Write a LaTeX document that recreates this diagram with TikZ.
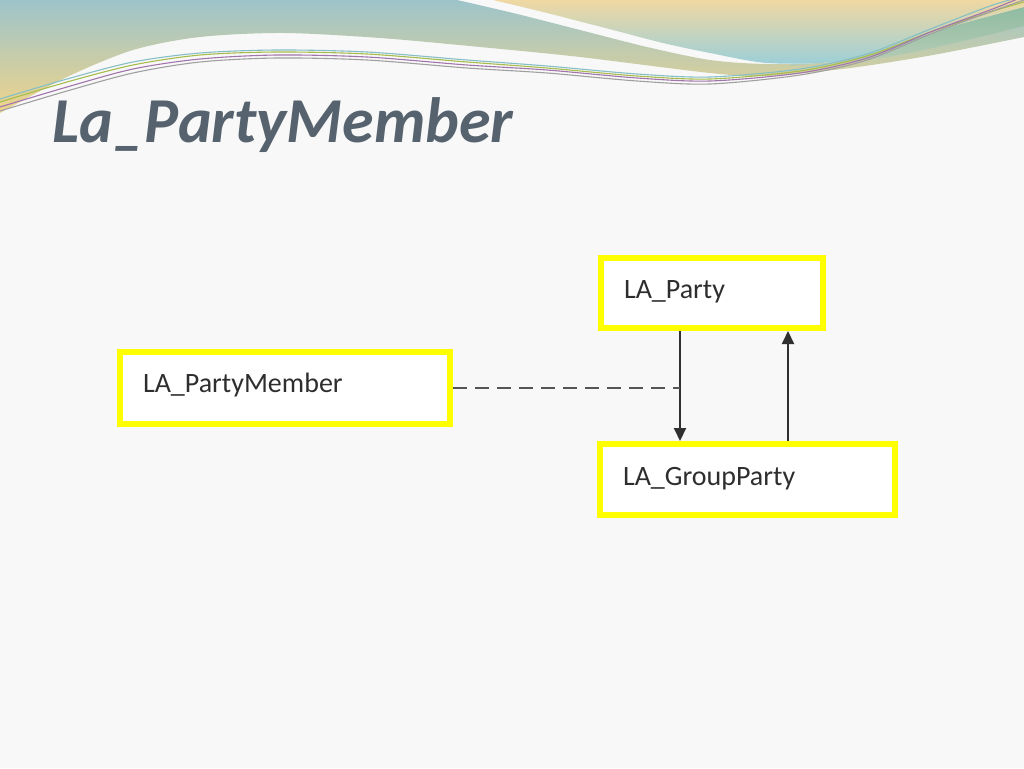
\documentclass[tikz,border=0pt]{standalone}
\usepackage{fontspec}
\setmainfont{Carlito}
\usetikzlibrary{arrows.meta,calc}
\definecolor{bgcol}{HTML}{F8F8F8}
\definecolor{titlecol}{HTML}{56636E}
\definecolor{boxyellow}{HTML}{FFFF00}
\definecolor{txtcol}{HTML}{2E2E2E}
\definecolor{arrcol}{HTML}{303030}
\definecolor{dashcol}{HTML}{555555}
\definecolor{tealA}{HTML}{9DC4CA}
\definecolor{khakiA}{HTML}{CFCA98}
\definecolor{yellowA}{HTML}{EFD48A}
\definecolor{yellowB}{HTML}{EFD8A2}
\definecolor{blueB}{HTML}{9CCFD8}
\definecolor{greenC}{HTML}{8FBCA2}
\definecolor{greenD}{HTML}{B9CDB6}
\definecolor{lpurple}{HTML}{A274AE}
\definecolor{lgray}{HTML}{A0A0A0}
\definecolor{lgreen}{HTML}{A7BC4A}
\definecolor{lteal}{HTML}{86BFC6}
\tikzset{
  umlbox/.style={draw=boxyellow, fill=white, line width=6pt, rectangle,
    inner xsep=23pt, inner ysep=0pt, align=left, text depth=0pt,
    text=txtcol, font=\fontsize{28}{30}\selectfont},
  arr/.style={draw=arrcol, line width=2pt, -{Triangle[length=13pt,width=12pt]}},
  dashline/.style={draw=dashcol, line width=2pt, dash pattern=on 14pt off 8pt},
  thinline/.style={line width=1.1pt}
}
\begin{document}
\begin{tikzpicture}[x=1pt,y=-1pt]
\useasboundingbox (0,0) rectangle (1024,768);
\fill[bgcol] (0,0) rectangle (1024,768);
% top decoration: left band
\shade[top color=tealA, middle color=khakiA, bottom color=yellowA]
  (0,0) -- (457,0)
  -- plot[smooth] coordinates {(457,0) (513,13) (580,30) (647,47) (710,60) (767,64) (833,62) (883,50) (950,27) (1024,7)}
  -- (1024,37)
  -- plot[smooth] coordinates {(1024,37) (933,55) (850,68) (767,76) (710,73) (580,57) (480,47) (380,38) (283,33) (200,37) (133,50) (67,77) (0,113)}
  -- cycle;
% green band
\shade[top color=greenC, bottom color=greenD]
  plot[smooth] coordinates {(790,64) (833,62) (883,50) (950,27) (1024,7)}
  -- (1024,26)
  -- plot[smooth] coordinates {(1024,26) (950,44) (880,58) (790,66)}
  -- cycle;
% right region
\shade[top color=yellowB, bottom color=blueB]
  (493,0) -- (1024,0) -- (1024,7)
  -- plot[smooth] coordinates {(1024,7) (950,27) (883,50) (833,62) (767,63) (710,53) (663,43) (613,30) (547,13) (493,0)}
  -- cycle;
% thin lines
\draw[thinline, lteal] plot[smooth] coordinates {(0,99) (67,79) (133,62) (200,53) (277,50) (367,52) (467,60) (547,66) (637,74) (710,77) (800,69) (867,54) (933,28) (990,6) (1024,-4)};
\draw[thinline, lgreen] plot[smooth] coordinates {(0,102) (67,82) (133,65) (200,55) (277,52) (367,54) (467,62) (547,68) (637,76) (710,79) (800,71) (867,56) (933,31) (990,12) (1024,2)};
\draw[thinline, lpurple] plot[smooth] coordinates {(0,107) (67,87) (133,69) (200,59) (277,55) (367,57) (467,65) (547,70) (637,78) (710,81) (800,73) (867,58) (933,31) (990,10) (1020,-2)};
\draw[thinline, lgray] plot[smooth] coordinates {(0,111) (67,91) (133,73) (200,62) (277,58) (367,60) (467,68) (547,73) (637,81) (710,84) (800,75) (867,60) (933,33) (990,12) (1024,0)};
% title
\node[anchor=base west, inner sep=0pt, text=titlecol,
      font=\fontsize{64}{70}\selectfont\bfseries\itshape] (title) at (52,142) {La\_PartyMember};
% boxes
\node[umlbox, text width=176pt, minimum height=70pt, text height=11pt] (party) at (712,293) {LA\_Party};
\node[umlbox, text width=249pt, minimum height=71pt, text height=11pt] (gp) at (747.5,479.5) {LA\_GroupParty};
\node[umlbox, text width=284pt, minimum height=72pt, text height=9pt] (pm) at (285,388) {LA\_PartyMember};
% connector columns
\coordinate (dx) at (680,0);
\coordinate (ux) at (788,0);
\draw[arr] (party.south -| dx) -- (gp.north -| dx);
\draw[arr] (gp.north -| ux) -- (party.south -| ux);
\draw[dashline] (pm.east) -- (pm.east -| dx);
\end{tikzpicture}
\end{document}
